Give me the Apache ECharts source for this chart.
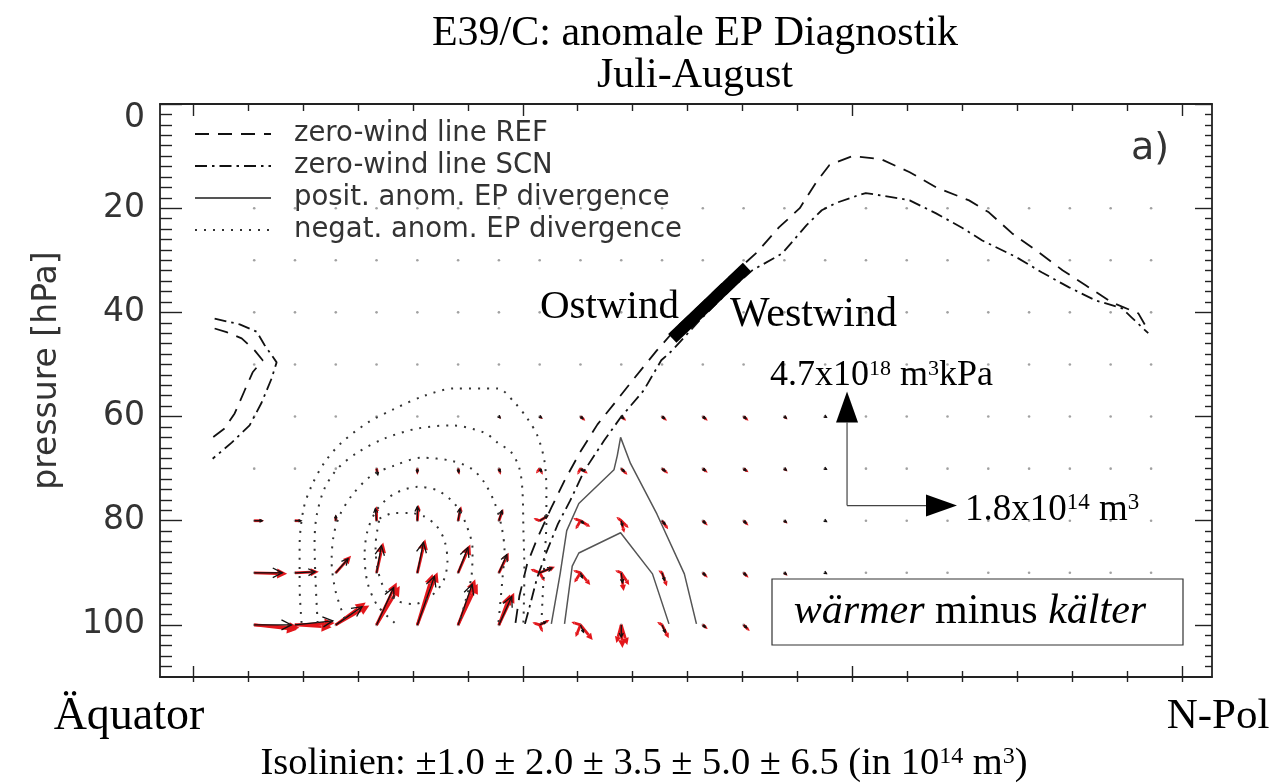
<!DOCTYPE html>
<html><head><meta charset="utf-8">
<script src="https://cdn.jsdelivr.net/npm/echarts@6/dist/echarts.min.js"></script>
<style>html,body{margin:0;padding:0;background:#fff}#c{width:1284px;height:784px}</style>
</head><body><div id="c"></div>
<script>
// ---------------- data ----------------
const lats = [5.57, 9.28, 12.99, 16.70, 20.41, 24.12, 27.83, 31.54, 35.25, 38.96, 42.67, 46.38, 50.09, 53.80, 57.51, 61.22, 64.93, 68.64, 72.35, 76.06, 79.77, 83.48, 87.16];
const levels = [20, 30, 40, 50, 60, 70, 80, 90, 100];
const vecLevels = [60, 70, 80, 90, 100];
// EP flux, horizontal component (1e14 m^3), rows = vecLevels, cols = lats (missing = 0)
const fxBlack = [
  [0, 0, 0, 0, 0, 0, 0.02, 0.03, 0.04, 0.04, 0.04, 0.04, 0.04, 0.03, 0.02],
  [0, 0, 0, 0.02, 0, 0.01, 0.02, 0.03, 0.05, 0.05, 0.05, 0.04, 0.04, 0.03, 0.02],
  [0.13, 0.10, 0, -0.02, 0, 0.03, 0.05, 0.13, 0.05, 0.02, 0.05, 0.04, 0.04, 0.03, 0.02],
  [0.46, 0.33, 0.20, 0.08, 0.10, 0.16, 0.13, 0.20, 0.03, 0.02, 0.04, 0.04, 0.04, 0.03, 0.02],
  [0.61, 0.62, 0.43, 0.28, 0.28, 0.23, 0.21, 0.10, 0.05, 0, 0.05, 0.04, 0.05, 0.03, 0.02]
];
// EP flux, vertical component (1e18 m^3 kPa), upward positive
const fzBlack = [
  [0, 0, 0, 0, 0, -0.03, -0.05, -0.05, -0.08, -0.08, -0.08, -0.08, -0.08, -0.06, -0.03],
  [0, 0, 0, -0.25, -0.15, -0.15, -0.12, -0.12, -0.10, -0.12, -0.10, -0.08, -0.08, -0.06, -0.03],
  [0, 0, 0.20, 0.50, 0.58, 0.50, 0.42, 0.20, -0.10, -0.20, -0.15, -0.10, -0.10, -0.06, -0.03],
  [0, 0.04, 0.58, 1.12, 1.25, 1.04, 0.75, 0.20, -0.20, -0.40, -0.30, -0.10, -0.10, -0.06, -0.03],
  [0, 0.17, 0.75, 1.54, 2.00, 1.67, 1.17, 0.12, -0.30, -0.50, -0.30, -0.10, -0.12, -0.06, -0.03]
];
const fxRed = [
  [0, 0, 0, 0, 0, 0, 0.03, 0.05, 0.08, 0.08, 0.08, 0.08, 0.08, 0.05, 0.03],
  [0, 0, 0, 0.02, 0, 0.02, 0.03, 0.05, 0.12, 0.10, 0.10, 0.08, 0.08, 0.05, 0.03],
  [0.16, 0.11, 0, 0, 0.02, 0.05, 0.07, 0.15, 0.16, 0.05, 0.10, 0.08, 0.08, 0.05, 0.03],
  [0.54, 0.39, 0.25, 0.11, 0.13, 0.20, 0.16, 0.25, 0.16, 0.04, 0.08, 0.08, 0.08, 0.05, 0.03],
  [0.74, 0.65, 0.49, 0.33, 0.33, 0.28, 0.25, 0.16, 0.20, 0.02, 0.11, 0.08, 0.10, 0.05, 0.03]
];
const fzRed = [
  [0, 0, 0, 0, 0, 0, -0.10, -0.10, -0.17, -0.17, -0.17, -0.17, -0.17, -0.12, -0.06],
  [0, 0, 0, -0.25, -0.25, -0.25, -0.25, -0.25, -0.20, -0.25, -0.20, -0.17, -0.15, -0.12, -0.06],
  [0, 0, 0.25, 0.60, 0.65, 0.60, 0.48, 0.22, -0.25, -0.50, -0.35, -0.20, -0.20, -0.12, -0.06],
  [-0.04, 0.04, 0.70, 1.25, 1.38, 1.17, 0.83, 0.25, -0.50, -0.75, -0.55, -0.20, -0.20, -0.12, -0.06],
  [-0.12, 0.08, 0.92, 1.75, 2.17, 1.88, 1.33, 0.20, -0.62, -0.95, -0.55, -0.17, -0.25, -0.12, -0.06]
];
// further red (single-member) vectors: [lat, level, fx, fz]
const redExtra = [
  [5.57, 100, 0.70, -0.20], [9.28, 100, 0.60, -0.10], [12.99, 100, 0.55, 0.80], [16.70, 100, 0.38, 1.60],
  [20.41, 100, 0.25, 2.10], [24.12, 100, 0.32, 1.70], [27.83, 100, 0.18, 1.25],
  [31.54, 100, -0.12, 0.10], [31.54, 100, 0.05, -0.30], [31.54, 90, -0.15, 0.15], [31.54, 90, 0.08, -0.35],
  [31.54, 80, -0.10, 0.10], [31.54, 70, -0.06, -0.20],
  [35.25, 100, -0.08, -0.50], [35.25, 100, -0.15, 0.12], [35.25, 90, -0.10, -0.40], [35.25, 90, -0.12, 0.10],
  [35.25, 80, -0.08, -0.35], [35.25, 80, -0.12, 0.10], [35.25, 70, -0.05, -0.25],
  [38.96, 100, 0.10, -0.83], [38.96, 100, -0.08, -0.75], [38.96, 90, 0.13, -0.50], [38.96, 90, -0.10, 0.10],
  [38.96, 80, 0.12, -0.30], [38.96, 80, -0.08, 0.15], [42.67, 100, -0.08, 0.12], [42.67, 90, -0.06, 0.10]
];
const refFx = 1.8;   // 1.8x10^14 m^3
const refFz = 4.7;   // 4.7x10^18 m^3 kPa

// zero-wind lines [lat, hPa]
const zeroRefMain = [[29.34,99.6],[29.7,94.4],[30.4,88.3],[31.3,83.5],[32.6,77.5],[33.8,72.3],[35.2,66.9],[36.8,61.5],[38.4,57.3],[40.2,52.5],[42.2,47.3],[44.2,42.5],[46.1,38.7],[48.3,34.2],[51.3,28.5],[53.3,23.7],[55.2,20.0],[56.7,15.0],[57.9,11.7],[60.0,10.0],[62.6,10.6],[65.2,13.1],[67.6,16.0],[70.6,18.5],[72.4,20.8],[74.5,24.8],[76.7,28.1],[79.1,31.9],[81.2,34.8],[83.6,38.1],[86.0,40.2],[86.9,43.5]];
const zeroRefEq = [[1.97,43.1],[3.06,43.8],[4.43,45.0],[5.61,47.3],[6.34,49.2],[5.43,51.5],[4.7,55.0],[3.79,59.4],[2.88,62.3],[1.79,64.0]];
const zeroScnMain = [[30.2,99.8],[30.6,96.7],[31.3,91.0],[32.2,85.8],[33.2,80.6],[34.3,76.2],[35.6,70.4],[37.4,64.6],[38.9,60.2],[41.0,55.0],[42.6,49.2],[43.6,47.3],[46.1,41.5],[49.1,35.2],[50.9,31.9],[53.6,28.7],[55.8,23.3],[57.2,20.4],[58.5,19.0],[60.3,17.7],[61.2,17.1],[64.2,18.1],[65.2,18.5],[67.6,21.0],[70.0,23.8],[71.8,26.2],[74.9,29.4],[77.2,32.3],[79.7,35.2],[82.1,37.7],[84.5,39.2],[85.4,41.0],[86.9,44.0]];
const zeroScnEq = [[1.97,41.2],[4.25,42.3],[5.79,43.7],[6.52,46.3],[7.61,49.6],[7.15,52.7],[6.25,57.3],[5.15,61.7],[3.52,65.0],[1.79,68.1]];

// anomalous EP divergence isolines [lat, hPa]
const posOuter = [[32.6,99.8],[33.4,90.2],[34.0,81.9],[35.1,76.7],[38.3,70.2],[38.6,67.5],[38.9,64.0],[39.8,69.0],[42.2,78.7],[44.7,90.2],[45.8,99.8]];
const posInner = [[33.8,99.8],[34.5,88.7],[35.1,86.2],[38.9,82.3],[41.8,90.2],[43.3,99.8]];
const neg1 = [[9.88,99.6],[9.70,92.5],[9.70,84.8],[10.06,77.7],[10.79,73.3],[11.97,68.8],[13.52,65.0],[15.88,61.2],[18.34,58.5],[21.06,56.0],[23.79,54.6],[27.70,54.6],[29.25,57.3],[30.43,60.4],[31.34,63.7],[31.97,68.5],[32.15,74.2],[32.15,80.0],[31.97,87.7],[31.79,95.4],[31.70,99.6]];
const neg2 = [[11.34,99.6],[11.15,91.5],[11.06,84.2],[11.25,79.0],[11.97,73.8],[13.15,70.0],[14.97,66.9],[17.43,64.2],[20.43,62.3],[23.52,61.7],[26.52,63.1],[27.70,65.0],[28.97,66.9],[29.70,70.0],[29.97,74.2],[30.06,81.9],[30.15,89.6],[30.06,99.6]];
const neg3 = [[13.79,98.8],[12.97,93.5],[12.61,87.7],[12.79,82.9],[13.34,79.0],[14.43,75.2],[16.25,71.3],[18.34,69.4],[20.79,67.9],[23.52,68.5],[25.34,70.0],[26.52,72.7],[27.43,76.5],[28.06,81.0],[28.34,85.8],[28.15,91.2],[27.79,99.6]];
const neg4 = [[18.34,99.6],[16.79,96.3],[15.88,91.9],[15.61,86.7],[15.88,81.9],[16.79,77.7],[18.34,74.8],[20.43,73.5],[22.25,74.2],[23.79,76.7],[24.79,80.4],[25.43,85.4],[25.34,90.6],[24.79,95.4],[24.25,99.6]];
const neg5 = [[16.97,79.6],[18.34,78.5],[19.70,78.5],[21.06,79.2],[22.15,81.0],[22.88,83.8],[23.15,87.7],[22.79,91.5],[21.70,94.4],[20.15,96.0],[18.61,95.4],[17.43,93.1],[16.79,89.2],[16.61,84.8],[16.79,81.5],[16.97,79.6]];
const boundaryBar = [[43.6,45.0],[50.4,31.3]]; // Ostwind / Westwind marker

// axis ticks
const xMajor = [0, 30, 60, 90];
const xMinor = [5, 10, 15, 20, 25, 35, 40, 45, 50, 55, 65, 70, 75, 80, 85];
const yMajor = [0, 20, 40, 60, 80, 100];
const yMinor = [];
for (let v = 2; v < 110; v += 2) if (v % 20) yMinor.push(v);

const NAMES = ['zero-wind line REF', 'zero-wind line SCN', 'posit. anom. EP divergence', 'negat. anom. EP divergence'];

// ---------------- drawing ----------------
const XMIN = -3, XMAX = 92.7;
const DEG_PER_FX = 10 / refFx;     // reference arrow spans 10 deg
const HPA_PER_FZ = 21.9 / refFz;   // reference arrow spans 21.9 hPa
const SCALE_ANCHOR = [59.5, 77.1];
const AX = '#222';
const SANS = 'DejaVu Sans', SERIF = 'Liberation Serif';

function arrowRender(color, width, filled, fixedHead, shaftColor) {
  return function (params, api) {
    const lat = api.value(0), p = api.value(1), fx = api.value(2), fz = api.value(3);
    const a = api.coord([lat, p]);
    const b = api.coord([lat + fx * DEG_PER_FX, p - fz * HPA_PER_FZ]);
    const dx = b[0] - a[0], dy = b[1] - a[1];
    const len = Math.hypot(dx, dy);
    if (len < 1.2) return null;
    const ux = dx / len, uy = dy / len;
    const hl = fixedHead ? fixedHead[0] : Math.min(10, Math.max(2.5, len * 0.34));
    const hw = fixedHead ? fixedHead[1] : hl * 0.5;
    const bx = b[0] - ux * hl, by = b[1] - uy * hl;
    const l = [bx - uy * hw, by + ux * hw], r = [bx + uy * hw, by - ux * hw];
    const children = [{ type: 'line', shape: { x1: a[0], y1: a[1], x2: filled ? bx : b[0], y2: filled ? by : b[1] }, style: { stroke: shaftColor || color, lineWidth: width } }];
    if (filled) children.push({ type: 'polygon', shape: { points: [b, l, r] }, style: { fill: color } });
    else children.push({ type: 'polyline', shape: { points: [l, b, r] }, style: { stroke: color, lineWidth: width, fill: null } });
    return { type: 'group', children };
  };
}

const dots = [];
levels.forEach(lev => lats.forEach(lat => dots.push([lat, lev])));
const blackData = [], redData = [];
vecLevels.forEach((lev, i) => lats.forEach((lat, j) => {
  blackData.push([lat, lev, fxBlack[i][j] || 0, fzBlack[i][j] || 0]);
  redData.push([lat, lev, fxRed[i][j] || 0, fzRed[i][j] || 0]);
}));
redExtra.forEach(r => redData.push(r));

function xa(pos, ticks, len, inside, showLine) {
  return { type: 'value', position: pos, min: XMIN, max: XMAX,
    axisLine: { show: showLine, onZero: false, lineStyle: { color: AX, width: 1.8 } },
    axisTick: { show: true, inside: inside, length: len, customValues: ticks, lineStyle: { color: AX, width: 1.4 } },
    axisLabel: { show: false }, splitLine: { show: false } };
}
function ya(pos, ticks, len, showLine, labels) {
  const o = { type: 'value', position: pos, min: 0, max: 110, inverse: true,
    axisLine: { show: showLine, onZero: false, lineStyle: { color: AX, width: 1.8 } },
    axisTick: { show: true, inside: true, length: len, customValues: ticks, lineStyle: { color: AX, width: 1.4 } },
    axisLabel: { show: false }, splitLine: { show: false } };
  if (labels) {
    o.axisLabel = { show: true, customValues: yMajor, margin: 15, color: '#333', fontFamily: SANS, fontSize: 33,
      formatter: v => (v === 0 ? '{z|0}' : String(v)),
      rich: { z: { padding: [28, 0, 0, 0], fontSize: 33, fontFamily: SANS, color: '#333' } } };
    o.name = 'pressure [hPa]';
    o.nameLocation = 'middle';
    o.nameGap = 96;
    o.nameTextStyle = { fontFamily: SANS, fontSize: 33, color: '#333', padding: [0, 0, 0, 40] };
  }
  return o;
}

const lineS = (name, data, style, z, smooth) => ({ type: 'line', name, data, showSymbol: false, symbol: 'none', smooth: smooth || 0,
  xAxisIndex: 0, yAxisIndex: 0, lineStyle: style, itemStyle: { color: style.color }, z: z, silent: true });

const refStyle = { color: '#111', width: 1.8, type: [14, 9] };
const scnStyle = { color: '#111', width: 1.8, type: [12, 5, 2.5, 5] };
const posStyle = { color: '#555', width: 1.5, type: 'solid' };
const negStyle = { color: '#333', width: 2, type: [2, 7] };

const supRich = (base) => ({
  s: { fontSize: Math.round(base * 0.62), fontFamily: SERIF, fill: '#000', verticalAlign: 'top', lineHeight: Math.round(base * 0.55) },
  i: { fontSize: base, fontFamily: SERIF, fontStyle: 'italic', fill: '#000' }
});

const option = {
  animation: false,
  backgroundColor: '#fff',
  title: { text: 'E39/C: anomale EP Diagnostik\nJuli-August', left: 690, top: 8, textAlign: 'center',
    textStyle: { fontFamily: SERIF, fontSize: 42, fontWeight: 'normal', color: '#000', lineHeight: 42 } },
  grid: { left: 160, right: 72, top: 104, bottom: 107, containLabel: false },
  legend: { data: NAMES, orient: 'vertical', left: 189, top: 115, itemWidth: 76, itemHeight: 14, itemGap: 4,
    selectedMode: false,
    itemStyle: { color: 'rgba(0,0,0,0)', borderWidth: 0, opacity: 0 },
    lineStyle: { opacity: 1 },
    textStyle: { fontFamily: SANS, fontSize: 27.5, color: '#333', padding: [0, 0, 0, 18], lineHeight: 24 } },
  xAxis: [
    xa('bottom', xMajor, 11, true, true),
    xa('bottom', xMinor, 6, true, false),
    xa('bottom', xMajor.concat(xMinor), 5, false, false),
    xa('top', xMajor, 12, true, true),
    xa('top', xMinor, 7, true, false)
  ],
  yAxis: [
    ya('left', yMajor, 22, true, true),
    ya('left', yMinor, 12, false, false),
    ya('right', yMajor, 17, true, false),
    ya('right', yMinor, 7, false, false)
  ],
  series: [
    { type: 'scatter', data: dots, symbolSize: 2.6, itemStyle: { color: '#8a8a8a' }, z: 1, silent: true, xAxisIndex: 0, yAxisIndex: 0 },
    { type: 'custom', data: redData, renderItem: arrowRender('#e3161b', 2.8, true), z: 3, silent: true, xAxisIndex: 0, yAxisIndex: 0 },
    { type: 'custom', data: blackData, renderItem: arrowRender('#111', 1.3, false), z: 4, silent: true, xAxisIndex: 0, yAxisIndex: 0 },
    lineS(NAMES[0], zeroRefMain, refStyle, 5),
    lineS(NAMES[1], zeroScnMain, scnStyle, 5),
    lineS(NAMES[2], posOuter, posStyle, 5),
    lineS(NAMES[3], neg1, negStyle, 5, 0.3),
    lineS(NAMES[0], zeroRefEq, refStyle, 5),
    lineS(NAMES[1], zeroScnEq, scnStyle, 5),
    lineS(NAMES[2], posInner, posStyle, 5),
    lineS(NAMES[3], neg2, negStyle, 5, 0.3),
    lineS(NAMES[3], neg3, negStyle, 5, 0.3),
    lineS(NAMES[3], neg4, negStyle, 5, 0.3),
    lineS(NAMES[3], neg5, negStyle, 5, 0.3),
    { type: 'line', data: boundaryBar, showSymbol: false, symbol: 'none', lineStyle: { color: '#000', width: 12, cap: 'butt' }, z: 8, silent: true },
    { type: 'custom', data: [[SCALE_ANCHOR[0], SCALE_ANCHOR[1], refFx, 0], [SCALE_ANCHOR[0], SCALE_ANCHOR[1], 0, refFz]],
      renderItem: arrowRender('#000', 1.2, true, [31, 11], '#444'), z: 8, silent: true, xAxisIndex: 0, yAxisIndex: 0 }
  ],
  graphic: [
    { type: 'text', x: 129, y: 717, style: { text: 'Äquator', fontFamily: SERIF, fontSize: 46, fill: '#000', align: 'center', verticalAlign: 'middle' } },
    { type: 'text', x: 1218, y: 717, style: { text: 'N-Pol', fontFamily: SERIF, fontSize: 43, fill: '#000', align: 'center', verticalAlign: 'middle' } },
    { type: 'text', x: 644, y: 764, style: { text: 'Isolinien: ±1.0 ± 2.0 ± 3.5 ± 5.0 ± 6.5 (in 10{s|14} m{s|3})', fontFamily: SERIF, fontSize: 38.5, fill: '#000', align: 'center', verticalAlign: 'middle', rich: supRich(38.5) } },
    { type: 'text', x: 540, y: 307, z: 20, style: { text: 'Ostwind', fontFamily: SERIF, fontSize: 41, fill: '#000', align: 'left', verticalAlign: 'middle' } },
    { type: 'text', x: 730, y: 315, z: 20, style: { text: 'Westwind', fontFamily: SERIF, fontSize: 42, fill: '#000', align: 'left', verticalAlign: 'middle' } },
    { type: 'text', x: 770, y: 376, z: 20, style: { text: '4.7x10{s|18} m{s|3}kPa', fontFamily: SERIF, fontSize: 36, fill: '#000', align: 'left', verticalAlign: 'middle', rich: supRich(36) } },
    { type: 'text', x: 965, y: 510, z: 20, style: { text: '1.8x10{s|14} m{s|3}', fontFamily: SERIF, fontSize: 37, fill: '#000', align: 'left', verticalAlign: 'middle', rich: supRich(37) } },
    { type: 'rect', z: 50, shape: { x: 772, y: 579, width: 411, height: 66 }, style: { fill: '#fff', stroke: '#333', lineWidth: 1.2 } },
    { type: 'text', x: 970, y: 612, z: 51, style: { text: '{i|wärmer} minus {i|kälter}', fontFamily: SERIF, fontSize: 42, fill: '#000', align: 'center', verticalAlign: 'middle', rich: supRich(42) } },
    { type: 'text', x: 1150, y: 149, z: 20, style: { text: 'a)', fontFamily: SANS, fontSize: 38, fill: '#333', align: 'center', verticalAlign: 'middle' } }
  ]
};
const chart = echarts.init(document.getElementById('c'), null, { renderer: 'canvas' });
chart.setOption(option);
</script></body></html>
